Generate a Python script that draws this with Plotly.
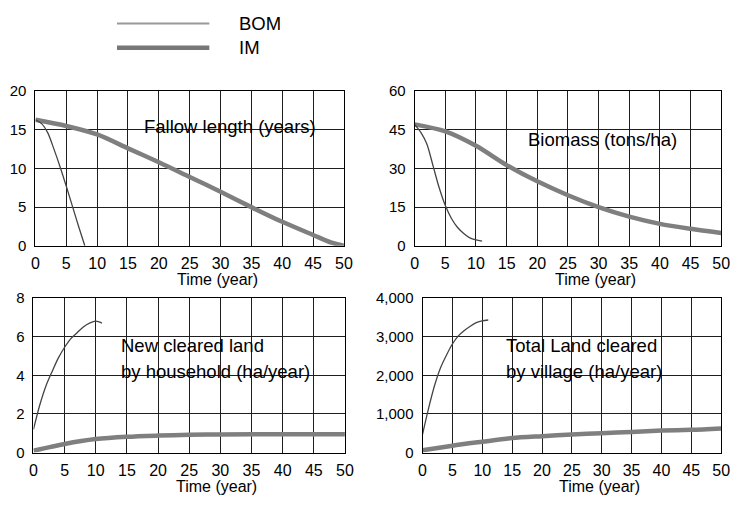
import plotly.graph_objects as go

W, H = 742, 507
FONT = "Liberation Sans, Arial, sans-serif"

# ---- data ----
fallow_bom_t = [0, 1, 2, 3, 4, 5, 6, 7, 8]
fallow_bom = [16.3, 15.8, 14.6, 12.5, 10.2, 7.7, 5.1, 2.5, 0.0]
fallow_im_t = [0, 5, 10, 15, 20, 25, 30, 35, 40, 45, 48, 50]
fallow_im = [16.3, 15.5, 14.4, 12.6, 10.8, 8.9, 7.0, 5.0, 3.1, 1.4, 0.4, 0.0]

biomass_bom_t = [0, 1, 2, 3, 4, 5, 6, 7, 8, 9, 10, 11]
biomass_bom = [47.0, 44.0, 39.4, 31.0, 22.5, 15.6, 10.6, 7.1, 4.8, 3.1, 2.3, 1.8]
biomass_im_t = [0, 5, 10, 15, 20, 25, 30, 35, 40, 45, 50]
biomass_im = [47.1, 44.4, 38.8, 31.3, 25.0, 19.6, 15.0, 11.3, 8.5, 6.6, 5.0]

household_bom_t = [0, 1, 2, 3, 4, 5, 6, 7, 8, 9, 10, 11]
household_bom = [1.2, 2.45, 3.45, 4.2, 4.9, 5.45, 5.9, 6.2, 6.5, 6.7, 6.8, 6.7]
household_im_t = [0, 5, 10, 15, 20, 25, 30, 40, 50]
household_im = [0.1, 0.45, 0.7, 0.82, 0.88, 0.92, 0.94, 0.95, 0.95]

village_bom_t = [0, 1, 2, 3, 4, 5, 6, 7, 8, 9, 10, 11]
village_bom = [475, 1140, 1730, 2190, 2520, 2810, 3020, 3160, 3270, 3360, 3410, 3430]
village_im_t = [0, 5, 10, 15, 20, 25, 30, 35, 40, 45, 50]
village_im = [60, 180, 280, 375, 425, 470, 500, 535, 570, 590, 625]

panel_titles = [
    ["Fallow length (years)"],
    ["Biomass (tons/ha)"],
    ["New cleared land", "by household (ha/year)"],
    ["Total Land cleared", "by village (ha/year)"],
]
x_title = "Time (year)"
series_names = ["BOM", "IM"]

BOM_COLOR = "#444444"
IM_COLOR = "#7f7f7f"

# panel boxes in pixels: (left, right, top, bottom)
boxes = [
    (32, 346, 85, 245),
    (418, 730, 85, 245),
    (30, 347, 299, 459),
    (426, 730, 299, 459),
]
y_ranges = [[0, 20], [0, 60], [0, 8], [0, 4000]]
y_dticks = [5, 15, 2, 1000]

panels = [
    (fallow_bom_t, fallow_bom, fallow_im_t, fallow_im),
    (biomass_bom_t, biomass_bom, biomass_im_t, biomass_im),
    (household_bom_t, household_bom, household_im_t, household_im),
    (village_bom_t, village_bom, village_im_t, village_im),
]

fig = go.Figure()
layout = {}
annotations = []
shapes = []

for i, (box, (bt, bv, it, iv)) in enumerate(zip(boxes, panels)):
    n = "" if i == 0 else str(i + 1)
    l, r, t, b = box
    xd = [l / W, r / W]
    yd = [1 - b / H, 1 - t / H]
    layout["xaxis" + n] = dict(
        domain=xd, anchor="y" + n, range=[0, 50], dtick=5, tick0=0,
        showgrid=True, gridcolor="#1e1e1e", gridwidth=1,
        showline=True, linecolor="#000", linewidth=1, mirror=True,
        zeroline=False, ticks="", ticklabelstandoff=3,
        tickfont=dict(family=FONT, size=16, color="#000"),
    )
    layout["yaxis" + n] = dict(
        domain=yd, anchor="x" + n, range=y_ranges[i], dtick=y_dticks[i], tick0=0,
        showgrid=True, gridcolor="#1e1e1e", gridwidth=1,
        showline=True, linecolor="#000", linewidth=1, mirror=True,
        zeroline=False, ticks="", ticklabelstandoff=5,
        separatethousands=True, tickformat=",d",
        tickfont=dict(family=FONT, size=15, color="#000"),
    )
    fig.add_trace(go.Scatter(
        x=it, y=iv, mode="lines", line=dict(color=IM_COLOR, width=4.5, shape="spline", smoothing=0.8),
        xaxis="x" + n, yaxis="y" + n, showlegend=False, name=series_names[1],
    ))
    fig.add_trace(go.Scatter(
        x=bt, y=bv, mode="lines", line=dict(color=BOM_COLOR, width=1.3, shape="spline", smoothing=0.8),
        xaxis="x" + n, yaxis="y" + n, showlegend=False, name=series_names[0],
    ))
    # axis title below the panel
    annotations.append(dict(
        text=x_title, xref="paper", yref="paper",
        x=(l + r) / 2 / W + 28 / W, y=1 - (b + 35) / H,
        xanchor="center", yanchor="middle", showarrow=False,
        font=dict(family=FONT, size=16, color="#000"),
    ))

# in-panel labels (data coordinates)
label_pos = [(17.2, 15.4), (18.1, 41.3), (13.7, 5.55), (13.6, 2780)]
line_gap = [0, 0, 1.35, 675]
for i, (lines, (lx, ly)) in enumerate(zip(panel_titles, label_pos)):
    n = "" if i == 0 else str(i + 1)
    for k, txt in enumerate(lines):
        annotations.append(dict(
            text=txt, xref="x" + n, yref="y" + n, x=lx, y=ly - k * line_gap[i],
            xanchor="left", yanchor="middle", showarrow=False,
            font=dict(family=FONT, size=18.5, color="#000"),
        ))

# legend
legend_items = [(series_names[0], "#999999", 2, 15), (series_names[1], "#777777", 4.5, 40)]
for name, col, wdt, ypx in legend_items:
    shapes.append(dict(
        type="line", xref="paper", yref="paper",
        x0=115 / W, x1=209 / W, y0=1 - ypx / H, y1=1 - ypx / H,
        line=dict(color=col, width=wdt),
    ))
    annotations.append(dict(
        text=name, xref="paper", yref="paper", x=237 / W, y=1 - ypx / H,
        xanchor="left", yanchor="middle", showarrow=False,
        font=dict(family=FONT, size=18.5, color="#000"),
    ))

fig.update_layout(
    **layout,
    width=W, height=H,
    margin=dict(l=0, r=0, t=0, b=0),
    paper_bgcolor="white", plot_bgcolor="white",
    showlegend=False,
    annotations=annotations, shapes=shapes,
    font=dict(family=FONT, color="#000"),
)

fig.write_html("out.html")
